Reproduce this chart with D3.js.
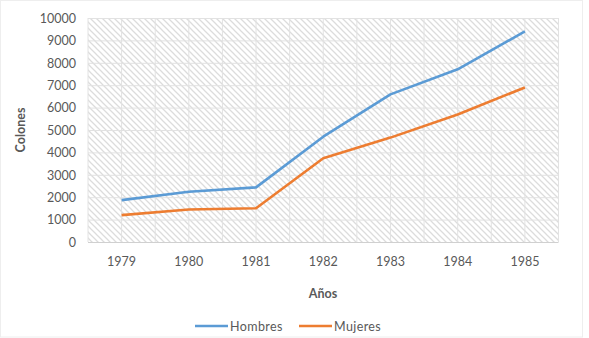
<!DOCTYPE html>
<html><head><meta charset="utf-8">
<script src="https://cdn.jsdelivr.net/npm/d3@7"></script>
<style>body{margin:0;background:#fff}svg{display:block}</style>
</head><body>
<script>
const years = ["1979","1980","1981","1982","1983","1984","1985"];
const hombres = [1870, 2240, 2440, 4700, 6590, 7710, 9400];
const mujeres = [1200, 1450, 1510, 3740, 4660, 5690, 6900];
const yTicks = [0,1000,2000,3000,4000,5000,6000,7000,8000,9000,10000];
const seriesNames = ["Hombres","Mujeres"];
const colors = ["#5b9bd5","#ed7d31"];

const W=589,H=338;
const m={left:88,right:30.5,top:18,bottom:96};
const svg=d3.select("body").append("svg").attr("width",W).attr("height",H);
const font="Lato, 'Open Sans', sans-serif";

svg.append("rect").attr("x",0.5).attr("y",0.5).attr("width",582).attr("height",336.5)
  .attr("fill","#fff").attr("stroke","#eeeeee");

const defs=svg.append("defs");
const pat=defs.append("pattern").attr("id","hatch").attr("patternUnits","userSpaceOnUse")
  .attr("width",6).attr("height",6);
pat.append("rect").attr("width",6).attr("height",6).attr("fill","#fff");
pat.append("path").attr("d","M0,0L6,6M-1,5L1,7M5,-1L7,1")
  .attr("stroke","#dcdcdc").attr("stroke-width",1.25);

const x=d3.scaleBand().domain(years).range([m.left,W-m.right]);
const y=d3.scaleLinear().domain([0,10000]).range([H-m.bottom,m.top]);

svg.append("rect").attr("x",m.left).attr("y",m.top)
  .attr("width",x.range()[1]-m.left).attr("height",y(0)-m.top).attr("fill","url(#hatch)");

// horizontal gridlines
svg.append("g").selectAll("line").data(yTicks).join("line")
  .attr("x1",m.left).attr("x2",x.range()[1])
  .attr("y1",d=>y(d)+0.5).attr("y2",d=>y(d)+0.5)
  .attr("stroke",d=>d===0?"#d0d0d0":"#e2e2e2").attr("stroke-width",1);
// vertical gridlines at half-band steps
const vx=[];
years.forEach(yr=>{vx.push(x(yr));vx.push(x(yr)+x.bandwidth()/2);});
vx.push(x.range()[1]);
svg.append("g").selectAll("line").data(vx).join("line")
  .attr("x1",d=>d).attr("x2",d=>d).attr("y1",m.top).attr("y2",y(0))
  .attr("stroke","#e2e2e2").attr("stroke-width",1);

// y axis labels
const ya=svg.append("g").attr("transform",`translate(${m.left-12},0)`)
  .call(d3.axisLeft(y).tickValues(yTicks).tickSize(0).tickPadding(0).tickFormat(d3.format("d")));
ya.select(".domain").remove();
ya.selectAll("text").attr("font-family",font).attr("font-size",12.5).attr("fill","#595959").attr("dy","0.35em");

// x axis labels
const xa=svg.append("g").attr("transform",`translate(0,${y(0)})`)
  .call(d3.axisBottom(x).tickSize(0).tickPadding(15));
xa.select(".domain").remove();
xa.selectAll("text").attr("font-family",font).attr("font-size",12.5).attr("fill","#595959");

// lines
const line=d3.line().x((d,i)=>x(years[i])+x.bandwidth()/2).y(d=>y(d));
[hombres,mujeres].forEach((s,i)=>{
  svg.append("path").datum(s).attr("d",line).attr("fill","none")
    .attr("stroke",colors[i]).attr("stroke-width",2.6).attr("stroke-linejoin","round");
});

// titles
svg.append("text").attr("x",323).attr("y",298).attr("text-anchor","middle")
  .attr("font-family",font).attr("font-weight","bold").attr("font-size",12.5).attr("fill","#595959").text("Años");
svg.append("text").attr("transform","translate(25,130) rotate(-90)").attr("text-anchor","middle")
  .attr("font-family",font).attr("font-weight","bold").attr("font-size",12.5).attr("fill","#595959").text("Colones");

// legend
const lg=svg.append("g");
const lx=[195,299];
seriesNames.forEach((n,i)=>{
  lg.append("line").attr("x1",lx[i]).attr("x2",lx[i]+33).attr("y1",326).attr("y2",326)
    .attr("stroke",colors[i]).attr("stroke-width",2.6);
  lg.append("text").attr("x",lx[i]+35).attr("y",330.5).attr("font-family",font).attr("font-size",12.5)
    .attr("fill","#595959").attr("letter-spacing","0.4").text(n);
});
</script>
</body></html>
